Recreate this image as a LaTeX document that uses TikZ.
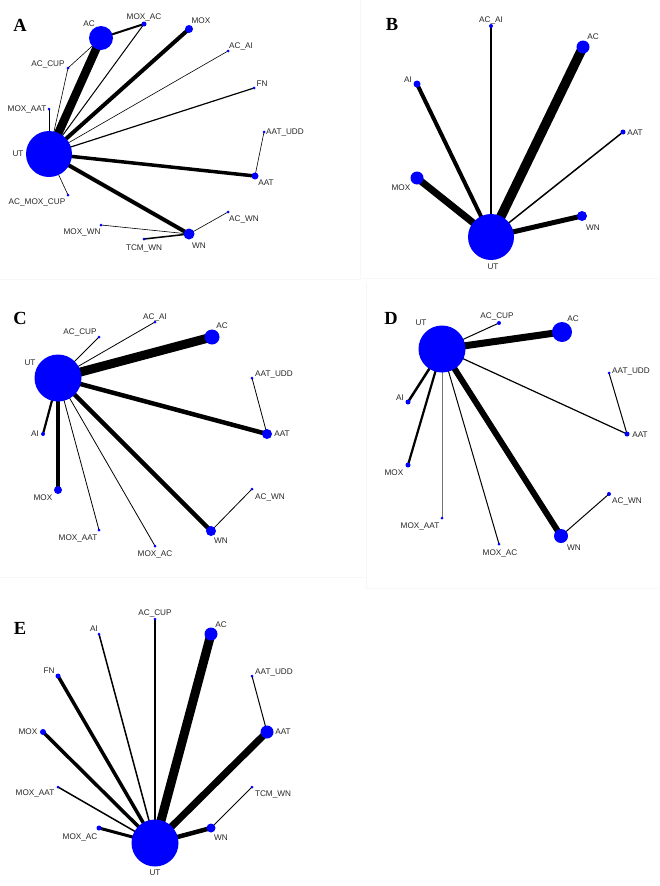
\documentclass[tikz,border=0pt]{standalone}
\usepackage{fontspec}
\setmainfont{Liberation Serif}
\newfontfamily\arialfont{Liberation Sans}
\usetikzlibrary{positioning}
\pgfdeclarelayer{bg}
\pgfsetlayers{bg,main}
\begin{document}
\begin{tikzpicture}[x=1pt,y=-1pt,
  nd/.style={circle,fill=blue,draw=none,inner sep=0pt,minimum size=#1},
  lbl/.style={font=\arialfont\fontsize{8.2}{9}\selectfont,text=black!85,inner sep=0pt},
  tag/.style={font=\rmfamily\bfseries\fontsize{18.5}{18.5}\selectfont,inner sep=0pt},
  ed/.style={draw=black,line width=#1},
  faint/.style={draw=black!3,line width=0.5pt}]
\useasboundingbox (0,0) rectangle (659,886);
\draw[faint] (0,279)--(360,279)--(360,0);
\draw[faint] (362,278)--(659,278);
\draw[faint] (366,282)--(366,588)--(659,588);
\draw[faint] (0,577)--(366,577);

\node[tag] (atag) at (20,25) {A};
\node[nd=46pt] (aUT) at (49,154) {};
\node[nd=24pt] (aAC) at (101,38) {};
\node[nd=5pt] (aMOXAC) at (144,24) {};
\node[nd=8pt] (aMOX) at (189,29) {};
\node[nd=3pt] (aACAI) at (228,51) {};
\node[nd=3pt] (aFN) at (254,88) {};
\node[nd=3pt] (aAATUDD) at (264,132) {};
\node[nd=7pt] (aAAT) at (255,176) {};
\node[nd=3pt] (aACWN) at (228,212) {};
\node[nd=11pt] (aWN) at (189,234) {};
\node[nd=3pt] (aTCMWN) at (144,239) {};
\node[nd=3pt] (aMOXWN) at (101,225) {};
\node[nd=3pt] (aACMOXCUP) at (68,195) {};
\node[nd=3pt] (aMOXAAT) at (49,109) {};
\node[nd=3pt] (aACCUP) at (68,68) {};
\node[lbl] (aUTl) at (18,154) {UT};
\node[lbl] (aACl) at (89,24) {AC};
\node[lbl] (aMOXACl) at (144,17) {MOX\_AC};
\node[lbl] (aMOXl) at (201,21) {MOX};
\node[lbl] (aACAIl) at (241,46) {AC\_AI};
\node[lbl] (aFNl) at (262,84) {FN};
\node[lbl] (aAATUDDl) at (285,132) {AAT\_UDD};
\node[lbl] (aAATl) at (266,183) {AAT};
\node[lbl] (aACWNl) at (244,219) {AC\_WN};
\node[lbl] (aWNl) at (199,246) {WN};
\node[lbl] (aTCMWNl) at (144,248) {TCM\_WN};
\node[lbl] (aMOXWNl) at (82,232) {MOX\_WN};
\node[lbl] (aACMOXCUPl) at (37,202) {AC\_MOX\_CUP};
\node[lbl] (aMOXAATl) at (27,109) {MOX\_AAT};
\node[lbl] (aACCUPl) at (48,64) {AC\_CUP};
\begin{pgfonlayer}{bg}
\draw[ed=8.5pt] (aUT.center)--(aAC.center);
\draw[ed=4pt] (aUT.center)--(aMOX.center);
\draw[ed=1pt] (aUT.center)--(aMOXAC.center);
\draw[ed=2pt] (aAC.center)--(aMOXAC.center);
\draw[ed=0.6pt] (aAC.center)--(aACCUP.center);
\draw[ed=0.6pt] (aACCUP.center)--(aUT.center);
\draw[ed=0.6pt] (aMOXAAT.center)--(aUT.center);
\draw[ed=0.6pt] (aUT.center)--(aACAI.center);
\draw[ed=1.2pt] (aUT.center)--(aFN.center);
\draw[ed=0.6pt] (aAATUDD.center)--(aAAT.center);
\draw[ed=3.5pt] (aUT.center)--(aAAT.center);
\draw[ed=4pt] (aUT.center)--(aWN.center);
\draw[ed=0.6pt] (aUT.center)--(aACMOXCUP.center);
\draw[ed=0.6pt] (aWN.center)--(aACWN.center);
\draw[ed=1.5pt] (aWN.center)--(aTCMWN.center);
\draw[ed=0.6pt] (aWN.center)--(aMOXWN.center);
\end{pgfonlayer}

\node[tag] (btag) at (392,24) {B};
\node[nd=46pt] (bUT) at (491,237) {};
\node[nd=4pt] (bACAI) at (491,26) {};
\node[nd=13pt] (bAC) at (583,47) {};
\node[nd=7pt] (bAI) at (417,84) {};
\node[nd=5pt] (bAAT) at (623,132) {};
\node[nd=13pt] (bMOX) at (417,178) {};
\node[nd=10pt] (bWN) at (582,216) {};
\node[lbl] (bUTl) at (493,267) {UT};
\node[lbl] (bACAIl) at (491,20) {AC\_AI};
\node[lbl] (bACl) at (593,37) {AC};
\node[lbl] (bAIl) at (408,80) {AI};
\node[lbl] (bAATl) at (635,133) {AAT};
\node[lbl] (bMOXl) at (401,188) {MOX};
\node[lbl] (bWNl) at (593,228) {WN};
\begin{pgfonlayer}{bg}
\draw[ed=9.5pt] (bUT.center)--(bAC.center);
\draw[ed=7pt] (bUT.center)--(bMOX.center);
\draw[ed=4pt] (bUT.center)--(bAI.center);
\draw[ed=2pt] (bUT.center)--(bACAI.center);
\draw[ed=1.5pt] (bUT.center)--(bAAT.center);
\draw[ed=5pt] (bUT.center)--(bWN.center);
\end{pgfonlayer}

\node[tag] (ctag) at (20,318) {C};
\node[nd=47pt] (cUT) at (58,378) {};
\node[nd=3pt] (cACCUP) at (99,337) {};
\node[nd=3pt] (cACAI) at (155,322) {};
\node[nd=15pt] (cAC) at (212,337) {};
\node[nd=3pt] (cAATUDD) at (252,378) {};
\node[nd=10pt] (cAAT) at (267,434) {};
\node[nd=3pt] (cACWN) at (252,489) {};
\node[nd=10pt] (cWN) at (211,531) {};
\node[nd=3pt] (cMOXAC) at (155,546) {};
\node[nd=3pt] (cMOXAAT) at (99,530) {};
\node[nd=8pt] (cMOX) at (58,490) {};
\node[nd=4pt] (cAI) at (43,434) {};
\node[lbl] (cUTl) at (30,363) {UT};
\node[lbl] (cACCUPl) at (80,332) {AC\_CUP};
\node[lbl] (cACAIl) at (155,317) {AC\_AI};
\node[lbl] (cACl) at (222,326) {AC};
\node[lbl] (cAATUDDl) at (274,374) {AAT\_UDD};
\node[lbl] (cAATl) at (282,434) {AAT};
\node[lbl] (cACWNl) at (270,497) {AC\_WN};
\node[lbl] (cWNl) at (221,541) {WN};
\node[lbl] (cMOXACl) at (155,554) {MOX\_AC};
\node[lbl] (cMOXAATl) at (78,538) {MOX\_AAT};
\node[lbl] (cMOXl) at (43,498) {MOX};
\node[lbl] (cAIl) at (35,434) {AI};
\begin{pgfonlayer}{bg}
\draw[ed=9pt] (cUT.center)--(cAC.center);
\draw[ed=4.5pt] (cUT.center)--(cAAT.center);
\draw[ed=4.5pt] (cUT.center)--(cWN.center);
\draw[ed=4pt] (cUT.center)--(cMOX.center);
\draw[ed=2.2pt] (cUT.center)--(cAI.center);
\draw[ed=0.8pt] (cUT.center)--(cACCUP.center);
\draw[ed=0.8pt] (cUT.center)--(cACAI.center);
\draw[ed=0.8pt] (cUT.center)--(cMOXAAT.center);
\draw[ed=0.8pt] (cUT.center)--(cMOXAC.center);
\draw[ed=0.8pt] (cAATUDD.center)--(cAAT.center);
\draw[ed=0.8pt] (cWN.center)--(cACWN.center);
\end{pgfonlayer}

\node[tag] (dtag) at (391,318) {D};
\node[nd=47pt] (dUT) at (442,349) {};
\node[nd=4pt] (dACCUP) at (499,323) {};
\node[nd=20pt] (dAC) at (562,332) {};
\node[nd=3pt] (dAATUDD) at (609,373) {};
\node[nd=5pt] (dAAT) at (627,434) {};
\node[nd=4pt] (dACWN) at (609,494) {};
\node[nd=14pt] (dWN) at (561,536) {};
\node[nd=3pt] (dMOXAC) at (499,544) {};
\node[nd=3pt] (dMOXAAT) at (442,518) {};
\node[nd=5pt] (dMOX) at (408,465) {};
\node[nd=5pt] (dAI) at (408,402) {};
\node[lbl] (dUTl) at (421,323) {UT};
\node[lbl] (dACCUPl) at (497,316) {AC\_CUP};
\node[lbl] (dACl) at (573,319) {AC};
\node[lbl] (dAATUDDl) at (631,371) {AAT\_UDD};
\node[lbl] (dAATl) at (640,435) {AAT};
\node[lbl] (dACWNl) at (627,501) {AC\_WN};
\node[lbl] (dWNl) at (574,548) {WN};
\node[lbl] (dMOXACl) at (500,553) {MOX\_AC};
\node[lbl] (dMOXAATl) at (420,526) {MOX\_AAT};
\node[lbl] (dMOXl) at (394,473) {MOX};
\node[lbl] (dAIl) at (400,398) {AI};
\begin{pgfonlayer}{bg}
\draw[ed=7pt] (dUT.center)--(dAC.center);
\draw[ed=6pt] (dUT.center)--(dWN.center);
\draw[ed=1.2pt] (dUT.center)--(dAAT.center);
\draw[ed=1pt] (dUT.center)--(dACCUP.center);
\draw[ed=2.5pt] (dUT.center)--(dAI.center);
\draw[ed=2.2pt] (dUT.center)--(dMOX.center);
\draw[ed=1pt,draw=black!55] (dUT.center)--(dMOXAAT.center);
\draw[ed=1pt] (dUT.center)--(dMOXAC.center);
\draw[ed=1pt] (dAATUDD.center)--(dAAT.center);
\draw[ed=1pt] (dWN.center)--(dACWN.center);
\end{pgfonlayer}

\node[tag] (etag) at (20,628) {E};
\node[nd=47pt] (eUT) at (155,843) {};
\node[nd=3pt] (eACCUP) at (155,619) {};
\node[nd=3pt] (eAI) at (99,634) {};
\node[nd=5pt] (eFN) at (58,676) {};
\node[nd=6pt] (eMOX) at (43,732) {};
\node[nd=3pt] (eMOXAAT) at (58,787) {};
\node[nd=5pt] (eMOXAC) at (99,828) {};
\node[nd=13pt] (eAC) at (211,634) {};
\node[nd=3pt] (eAATUDD) at (252,676) {};
\node[nd=13pt] (eAAT) at (267,732) {};
\node[nd=3pt] (eTCMWN) at (252,787) {};
\node[nd=9pt] (eWN) at (211,828) {};
\node[lbl] (eUTl) at (155,873) {UT};
\node[lbl] (eACCUPl) at (155,613) {AC\_CUP};
\node[lbl] (eAIl) at (94,629) {AI};
\node[lbl] (eFNl) at (49,671) {FN};
\node[lbl] (eMOXl) at (28,732) {MOX};
\node[lbl] (eMOXAATl) at (35,793) {MOX\_AAT};
\node[lbl] (eMOXACl) at (80,837) {MOX\_AC};
\node[lbl] (eACl) at (221,625) {AC};
\node[lbl] (eAATUDDl) at (274,672) {AAT\_UDD};
\node[lbl] (eAATl) at (283,732) {AAT};
\node[lbl] (eTCMWNl) at (273,794) {TCM\_WN};
\node[lbl] (eWNl) at (221,838) {WN};
\begin{pgfonlayer}{bg}
\draw[ed=9pt] (eUT.center)--(eAC.center);
\draw[ed=7pt] (eUT.center)--(eAAT.center);
\draw[ed=4.5pt] (eUT.center)--(eWN.center);
\draw[ed=3.5pt] (eUT.center)--(eMOX.center);
\draw[ed=3.5pt] (eUT.center)--(eFN.center);
\draw[ed=1.5pt] (eUT.center)--(eAI.center);
\draw[ed=1.2pt] (eUT.center)--(eACCUP.center);
\draw[ed=1.5pt] (eUT.center)--(eMOXAAT.center);
\draw[ed=3pt] (eUT.center)--(eMOXAC.center);
\draw[ed=1pt] (eAATUDD.center)--(eAAT.center);
\draw[ed=1pt] (eWN.center)--(eTCMWN.center);
\end{pgfonlayer}
\end{tikzpicture}
\end{document}
